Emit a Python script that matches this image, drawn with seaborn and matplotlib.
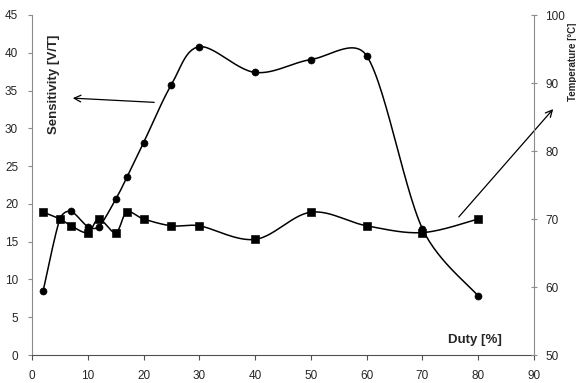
import numpy as np
import pandas as pd
import matplotlib
matplotlib.use("Agg")
import matplotlib.pyplot as plt
from matplotlib import font_manager
import seaborn as sns

# Data
duty = [2, 5, 7, 10, 12, 15, 17, 20, 25, 30, 40, 50, 60, 70, 80]
sensitivity = [8.5, 18.0, 19.0, 17.0, 17.0, 20.6, 23.5, 28.1, 35.8, 40.8, 37.4, 39.1, 39.6, 16.7, 7.8]
temperature = [71, 70, 69, 68, 70, 68, 71, 70, 69, 69, 67, 71, 69, 68, 70]

x_ticks = [0, 10, 20, 30, 40, 50, 60, 70, 80, 90]
sens_ticks = [0, 5, 10, 15, 20, 25, 30, 35, 40, 45]
temp_ticks = [50, 60, 70, 80, 90, 100]


def smooth(x, y, xr, yr, w=502.0, h=340.0, n=30, cap=0.4):
    # Excel-like smoothed line: Bezier with Catmull-Rom tangents (capped)
    px = (np.asarray(x, float) - xr[0]) / (xr[1] - xr[0]) * w
    py = (np.asarray(y, float) - yr[0]) / (yr[1] - yr[0]) * h
    P = np.column_stack([px, py])
    out = []
    for i in range(len(P) - 1):
        p0 = P[i - 1] if i > 0 else P[i]
        p1 = P[i]
        p2 = P[i + 1]
        p3 = P[i + 2] if i + 2 < len(P) else P[i + 1]
        L = np.hypot(*(p2 - p1))
        d1 = (p2 - p0) / 6.0
        d2 = (p3 - p1) / 6.0
        for d in (d1, d2):
            m = np.hypot(*d)
            if m > cap * L:
                d *= cap * L / m
        c1 = p1 + d1
        c2 = p2 - d2
        t = np.linspace(0, 1, n)[:, None]
        seg = ((1 - t) ** 3) * p1 + 3 * ((1 - t) ** 2) * t * c1 + 3 * (1 - t) * t ** 2 * c2 + t ** 3 * p2
        out.append(seg if i == 0 else seg[1:])
    S = np.vstack(out)
    sx = S[:, 0] / w * (xr[1] - xr[0]) + xr[0]
    sy = S[:, 1] / h * (yr[1] - yr[0]) + yr[0]
    return pd.DataFrame({"x": sx, "y": sy})


sns.set_style("white")
plt.rcParams["font.family"] = ["Liberation Sans", "DejaVu Sans"]

names = {f.name for f in font_manager.fontManager.ttflist}
if "Liberation Sans Narrow" in names:
    temp_font = dict(family=["Liberation Sans Narrow", "Liberation Sans"], fontsize=8.5)
else:
    temp_font = dict(family=["Liberation Sans", "DejaVu Sans"], fontsize=7)

fig = plt.figure(figsize=(5.76, 3.83), dpi=100)
ax = fig.add_axes([32 / 576, 1 - 355 / 383, 502 / 576, 340 / 383])
ax2 = ax.twinx()

df_s = pd.DataFrame({"duty": duty, "val": sensitivity})
df_t = pd.DataFrame({"duty": duty, "val": temperature})

curve_s = smooth(duty, sensitivity, (0, 90), (0, 45))
curve_t = smooth(duty, temperature, (0, 90), (50, 100))

sns.lineplot(data=curve_s, x="x", y="y", sort=False, estimator=None,
             color="black", lw=1.1, ax=ax)
sns.scatterplot(data=df_s, x="duty", y="val", marker="o", s=26,
                color="black", edgecolor="black", ax=ax, zorder=3)

sns.lineplot(data=curve_t, x="x", y="y", sort=False, estimator=None,
             color="black", lw=1.1, ax=ax2)
sns.scatterplot(data=df_t, x="duty", y="val", marker="s", s=30,
                color="black", edgecolor="black", ax=ax2, zorder=3)

ax.set_xlim(0, 90)
ax.set_ylim(0, 45)
ax2.set_ylim(50, 100)
ax.set_xticks(x_ticks)
ax.set_yticks(sens_ticks)
ax2.set_yticks(temp_ticks)
for a in (ax, ax2):
    a.set_xlabel("")
    a.set_ylabel("")
    a.spines["top"].set_visible(False)

ax.spines["left"].set_color("#8c8c8c")
ax.spines["bottom"].set_color("#505050")
ax.spines["right"].set_visible(False)
ax2.spines["left"].set_visible(False)
ax2.spines["bottom"].set_visible(False)
ax2.spines["right"].set_color("#8c8c8c")

ax.tick_params(axis="y", direction="out", length=3, width=0.8, color="#8c8c8c",
               pad=7, labelsize=8.5, left=True)
ax.tick_params(axis="x", direction="out", length=3.6, width=0.8, color="#505050",
               pad=7.5, labelsize=8.5, bottom=True)
ax2.tick_params(axis="y", direction="inout", length=5, width=0.8, color="#8c8c8c",
                pad=5.5, labelsize=8.5, right=True)

fig.text(54 / 576, 1 - 84 / 383, "Sensitivity [V/T]", rotation=90, fontsize=9.5,
         fontweight="bold", ha="center", va="center")
fig.text(572.5 / 576, 1 - 62 / 383, "Temperature [°C]", rotation=90,
         fontweight="bold", ha="center", va="center", **temp_font)
fig.text(502 / 576, 1 - 340 / 383, "Duty [%]", fontsize=9.5, fontweight="bold",
         ha="right", va="center")

arrow = dict(arrowstyle="->", color="black", lw=0.9, mutation_scale=12)
ax.annotate("", xy=(70, 1 - 98 / 383), xycoords=("figure pixels", "figure fraction"),
            xytext=(157, 1 - 102.5 / 383), textcoords=("figure pixels", "figure fraction"),
            arrowprops=arrow, annotation_clip=False)
ax.annotate("", xy=(555, 1 - 107 / 383), xycoords=("figure pixels", "figure fraction"),
            xytext=(457, 1 - 219 / 383), textcoords=("figure pixels", "figure fraction"),
            arrowprops=arrow, annotation_clip=False)

fig.savefig("out.png", dpi=100)
